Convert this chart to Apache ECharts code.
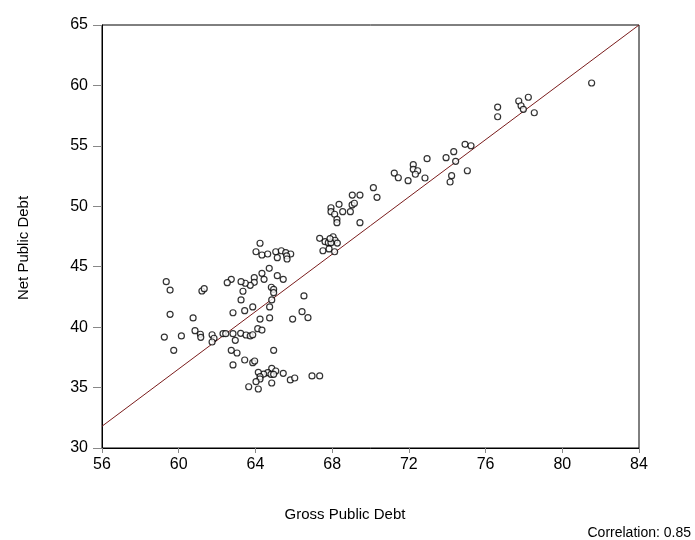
<!DOCTYPE html>
<html>
<head>
<meta charset="utf-8">
<script src="https://cdn.jsdelivr.net/npm/echarts@6/dist/echarts.min.js"></script>
<style>html,body{margin:0;padding:0;background:#fff;}#chart{width:695px;height:540px;}</style>
</head>
<body>
<div id="chart"></div>
<script>
// Gross public debt (x) values
var grossDebt = [
 64.24,64.03,64.34,64.64,65.06,65.35,65.58,65.84,65.63,65.14,65.65,
 67.35,67.63,67.80,68.05,68.15,68.27,67.94,67.52,67.84,68.13,67.89,
 64.72,64.34,65.14,65.45,64.45,63.94,63.94,63.73,63.47,63.25,62.74,62.53,
 59.35,59.55,61.21,61.33,63.35,63.25,64.83,64.95,64.95,64.85,66.53,
 64.74,63.86,63.44,62.83,66.43,66.74,65.94,64.74,64.24,59.55,60.75,
 64.12,64.34,60.85,59.25,60.14,61.13,61.15,61.74,61.84,61.74,62.31,62.45,62.83,63.23,63.51,63.73,63.86,62.95,
 59.74,62.74,63.04,64.95,63.44,63.86,63.96,62.83,
 64.85,65.06,64.64,64.43,64.15,64.81,64.95,65.45,64.24,64.24,64.03,64.85,63.65,64.15,65.82,66.05,66.95,67.35,
 70.15,70.34,69.05,69.45,68.36,69.04,69.16,67.94,67.94,68.13,68.55,68.95,68.25,68.25,69.45,
 71.24,71.45,71.96,72.23,72.23,72.46,72.34,72.84,72.95,
 81.53,78.23,77.73,77.85,77.97,78.54,76.63,76.63,74.93,75.24,74.34,73.94,74.44,75.05,74.23,74.15
];
// Net public debt (y) values
var netDebt = [
 46.94,46.24,45.97,46.05,46.24,46.32,46.16,46.05,45.89,45.75,45.64,
 47.35,47.07,46.99,47.48,47.19,46.96,46.99,46.32,46.47,46.24,47.33,
 44.87,44.45,44.26,43.96,43.96,44.09,43.71,43.46,43.63,43.76,43.96,43.68,
 43.76,43.07,42.99,43.18,42.97,42.25,43.30,43.13,42.85,42.25,42.58,
 41.67,41.67,41.36,41.19,41.28,40.78,40.67,40.76,40.67,41.06,40.76,
 39.87,39.76,39.71,39.18,39.27,39.41,39.16,39.37,39.08,38.77,39.46,39.46,39.46,39.49,39.35,39.27,39.37,38.91,
 38.08,38.08,37.86,38.08,37.28,37.06,37.20,36.87,
 36.59,36.37,36.23,36.12,36.26,36.10,36.10,36.18,35.90,35.71,35.49,35.38,35.07,34.88,35.63,35.79,35.96,35.96,
 51.54,50.74,50.93,50.93,50.16,50.11,50.25,49.88,49.55,49.34,49.55,49.55,48.92,48.64,48.64,
 52.75,52.36,52.12,53.44,53.06,52.94,52.65,52.34,53.94,
 60.20,59.02,58.71,58.32,58.02,57.74,58.21,57.41,55.13,55.01,54.52,54.02,53.72,52.94,52.53,52.01
];
// Fitted line endpoints
var fitX = [56, 84];
var fitY = [31.8, 65.0];
var xTicks = [56, 60, 64, 68, 72, 76, 80, 84];
var yTicks = [30, 35, 40, 45, 50, 55, 60, 65];
var xTitle = 'Gross Public Debt';
var yTitle = 'Net Public Debt';
var correlationText = 'Correlation: 0.85';

var pts = grossDebt.map(function(x, i){ return [x, netDebt[i]]; });
var fit = fitX.map(function(x, i){ return [x, fitY[i]]; });

var font = 'Liberation Sans, Arial, sans-serif';
var chart = echarts.init(document.getElementById('chart'), null, {renderer: 'canvas'});
chart.setOption({
  animation: false,
  backgroundColor: '#ffffff',
  grid: {left: 102, right: 56, top: 25, bottom: 92, show: true, borderColor: '#000', borderWidth: 1, backgroundColor: 'transparent'},
  xAxis: {
    type: 'value', min: xTicks[0], max: xTicks[xTicks.length-1], interval: 4,
    axisLine: {show: true, onZero: false, lineStyle: {color: '#000', width: 1}},
    axisTick: {show: true, length: 5, lineStyle: {color: '#888'}},
    axisLabel: {fontFamily: font, fontSize: 16, color: '#000', margin: 9},
    splitLine: {show: false}
  },
  yAxis: {
    type: 'value', min: yTicks[0], max: yTicks[yTicks.length-1], interval: 5,
    axisLine: {show: true, onZero: false, lineStyle: {color: '#000', width: 1}},
    axisTick: {show: true, length: 9, lineStyle: {color: '#888'}},
    axisLabel: {fontFamily: font, fontSize: 16, color: '#000', margin: 14},
    splitLine: {show: false}
  },
  graphic: [
    {type: 'text', x: 345, y: 515,
     style: {text: xTitle, font: '15px ' + font, fill: '#000', textAlign: 'center', textVerticalAlign: 'middle'}},
    {type: 'text', x: 24, y: 248, rotation: Math.PI / 2,
     style: {text: yTitle, font: '15px ' + font, fill: '#000', textAlign: 'center', textVerticalAlign: 'middle'}},
    {type: 'text', x: 691, y: 533,
     style: {text: correlationText, font: '14px ' + font, fill: '#000', textAlign: 'right', textVerticalAlign: 'middle'}}
  ],
  series: [
    {
      type: 'line', data: fit, symbol: 'none', silent: true, z: 1,
      lineStyle: {color: '#7a1c1c', width: 1}
    },
    {
      type: 'scatter', data: pts, symbol: 'circle', symbolSize: 6, z: 2,
      itemStyle: {color: '#ffffff', borderColor: '#000', borderWidth: 1.2}
    }
  ]
});
</script>
</body>
</html>
